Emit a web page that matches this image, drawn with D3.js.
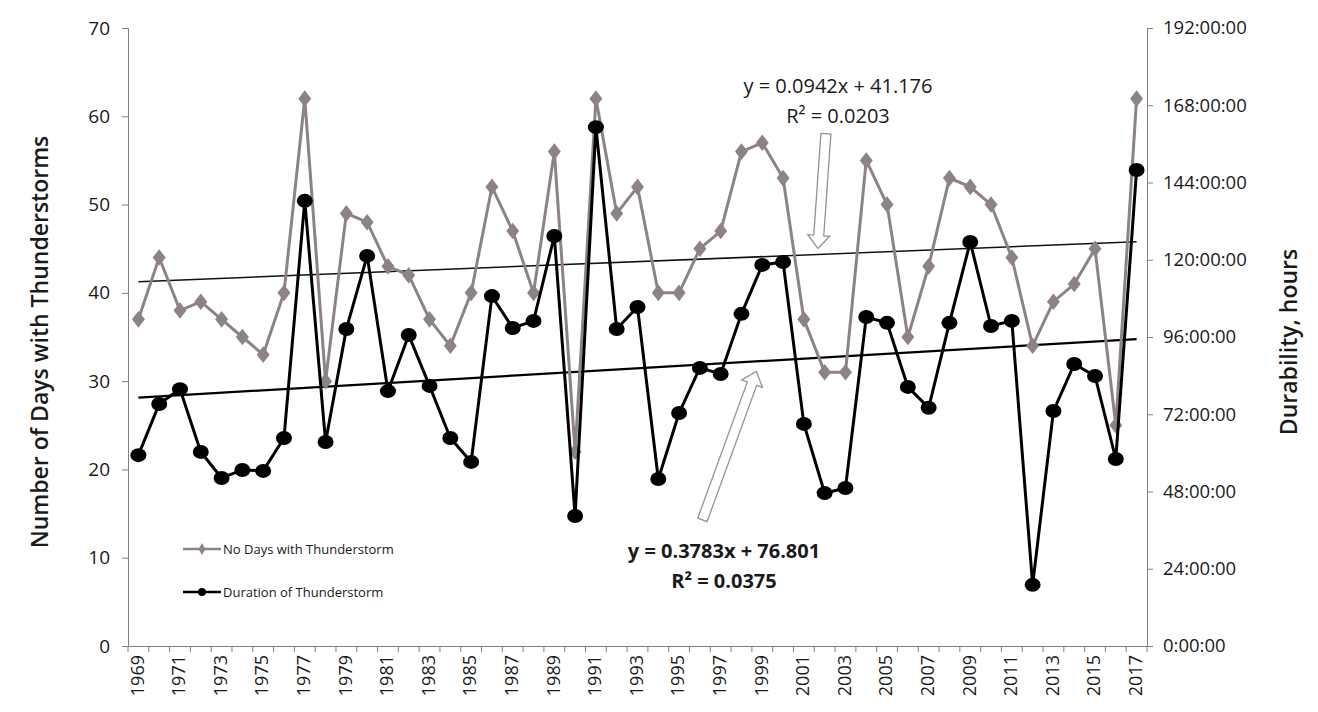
<!DOCTYPE html>
<meta charset="utf-8">
<style>
body { margin: 0; background: #fff; }
text { font-family: "Open Sans", "Noto Sans", sans-serif; fill: #1a1a1a; }
.axis path, .axis line { stroke: #8a7c7c; }
.series { fill: none; stroke-linejoin: miter; }
</style>
<body>
<svg width="1318" height="712"></svg>
<script src="https://cdn.jsdelivr.net/npm/d3@7/dist/d3.min.js"></script>
<script>

// years 1969..2017
var years = d3.range(1969, 2018)

// number of days with thunderstorms (left axis)
var days = [37,44,38,39,37,35,33,40,62,30,
            49,48,43,42,37,34,40,52,47,40,
            56,22,62,49,52,40,40,45,47,56,
            57,53,37,31,31,55,50,35,43,53,
            52,50,44,34,39,41,45,25,62]

// duration of thunderstorms, hours (right axis)
var hours = [59.3,75.2,79.8,60.3,52.2,54.7,54.4,64.6,138.3,63.4,
             98.5,121.2,79.2,96.6,80.8,64.6,57.2,108.7,98.8,101,
             127.4,40.4,161.2,98.5,105.3,51.9,72.4,86.4,84.5,103.2,
             118.4,119.3,69,47.5,49.1,102.2,100.4,80.5,74,100.4,
             125.5,99.4,101,19,73,87.6,83.9,58.1,147.9]

var daysTrend = [0.0942, 41.176], daysR2 = "0.0203"
var hoursTrend = [0.3783, 76.801], hoursR2 = "0.0375"

var leftTicks = d3.range(0, 71, 10)
var rightTicks = d3.range(0, 193, 24)

var svg = d3.select("svg")
var L = 128, R = 1147, T = 28, B = 646

var x = d3.scaleBand().domain(years).range([L, R])
var cx = function(yr){ return x(yr) + x.bandwidth()/2 }
var yL = d3.scaleLinear().domain([0, 70]).range([B, T])
var yR = d3.scaleLinear().domain([0, 192]).range([B, T])

// axes
svg.append("g").attr("class","axis")
  .attr("transform","translate("+L+",0)")
  .call(d3.axisLeft(yL).tickValues(leftTicks).tickSize(6).tickPadding(12))
  .call(g=>g.selectAll("text").style("font-size","19px"))

svg.append("g").attr("class","axis")
  .attr("transform","translate("+R+",0)")
  .call(d3.axisRight(yR).tickValues(rightTicks).tickSize(6).tickPadding(10)
        .tickFormat(d=> d+":00:00"))
  .call(g=>g.selectAll("text").style("font-size","18.5px"))

var xa = svg.append("g").attr("class","axis")
  .attr("transform","translate(0,"+B+")")
  .call(d3.axisBottom(x).tickSize(0).tickFormat(d=> (d-1969)%2==0 ? d : ""))
xa.selectAll("text")
  .style("font-size","18px")
  .attr("text-anchor","end")
  .attr("transform","rotate(-90)")
  .attr("x",-9).attr("y",-1).attr("dy","0.35em")
// ticks at band boundaries
xa.selectAll(".bt").data(years.concat([null])).enter().append("line")
  .attr("stroke","#8a7c7c")
  .attr("x1",(d,i)=> L + i*x.bandwidth()).attr("x2",(d,i)=> L + i*x.bandwidth())
  .attr("y1",0).attr("y2",6)

// trend lines
function trendLine(coef, scale){
  return d3.line().x(d=>cx(d)).y(d=> scale(coef[0]*(d-1968) + coef[1]))([years[0], years[years.length-1]])
}
svg.append("path").attr("d", trendLine(daysTrend, yL))
  .attr("stroke","#111").attr("stroke-width",1.5).attr("fill","none")
svg.append("path").attr("d", trendLine(hoursTrend, yR))
  .attr("stroke","#000").attr("stroke-width",2.2).attr("fill","none")

// days series
var grey = "#8e8384"
svg.append("path").attr("class","series")
  .attr("d", d3.line().x((d,i)=>cx(years[i])).y(d=>yL(d))(days))
  .attr("stroke",grey).attr("stroke-width",3)
svg.selectAll(".dia").data(days).enter().append("path")
  .attr("d", d3.symbol(d3.symbolDiamond, 110)())
  .attr("transform",(d,i)=>"translate("+cx(years[i])+","+yL(d)+") scale(1.15,0.85)")
  .attr("fill",grey)

// hours series
svg.append("path").attr("class","series")
  .attr("d", d3.line().x((d,i)=>cx(years[i])).y(d=>yR(d))(hours))
  .attr("stroke","#000").attr("stroke-width",3)
svg.selectAll(".dot").data(hours).enter().append("ellipse")
  .attr("cx",(d,i)=>cx(years[i])).attr("cy",d=>yR(d))
  .attr("rx",8).attr("ry",7).attr("fill","#000")

// hollow arrows pointing at the trend lines
function arrow(tx, ty, angle, len){
  var g = svg.append("g").attr("transform","translate("+tx+","+ty+") rotate("+angle+")")
  var hw = 5, hh = 13, hwid = 11
  g.append("path")
    .attr("d","M0,0 L"+(-hwid)+","+(-hh)+" L"+(-hw)+","+(-hh)+" L"+(-hw)+","+(-len)+
              " L"+hw+","+(-len)+" L"+hw+","+(-hh)+" L"+hwid+","+(-hh)+" Z")
    .attr("fill","#fff").attr("stroke","#9a9090").attr("stroke-width",1.3)
}
arrow(cx(2001)+14, yL(daysTrend[0]*33.7 + daysTrend[1]) - 6, 4, 115)
arrow(cx(1998)+15, yR(hoursTrend[0]*30.7 + hoursTrend[1]) + 10, 200, 158)

// equations
function eq(xc, y1, coef, r2, bold){
  var t = svg.append("g").style("font-size","20px").style("font-weight", bold ? "bold" : "normal")
  t.append("text").attr("x",xc).attr("y",y1).attr("text-anchor","middle")
    .text("y = " + coef[0].toFixed(4) + "x + " + coef[1].toFixed(3))
  t.append("text").attr("x",xc).attr("y",y1+30).attr("text-anchor","middle")
    .text("R² = " + r2)
}
eq(838, 93, daysTrend, daysR2, false)
eq(724, 558, hoursTrend, hoursR2, true)

// axis titles
svg.append("text").attr("transform","translate(48,342) rotate(-90)")
  .attr("text-anchor","middle").style("font-size","23px").style("font-weight","600")
  .text("Number of Days with Thunderstorms")
svg.append("text").attr("transform","translate(1297,342) rotate(-90)")
  .attr("text-anchor","middle").style("font-size","23px").style("font-weight","600")
  .text("Durability, hours")

// legend
var leg = svg.append("g").attr("transform","translate(183,0)")
var items = [{name:"No Days with Thunderstorm", c:grey, y:549, m:"d"},
             {name:"Duration of Thunderstorm", c:"#000", y:592, m:"c"}]
items.forEach(function(it){
  leg.append("line").attr("x1",0).attr("x2",38).attr("y1",it.y).attr("y2",it.y)
    .attr("stroke",it.c).attr("stroke-width",2.5)
  if (it.m=="d")
    leg.append("path").attr("d", d3.symbol(d3.symbolDiamond, 40)())
      .attr("transform","translate(19,"+it.y+")").attr("fill",it.c)
  else
    leg.append("circle").attr("cx",19).attr("cy",it.y).attr("r",4).attr("fill",it.c)
  leg.append("text").attr("x",40).attr("y",it.y).attr("dy","0.35em")
    .style("font-size","13px").text(it.name)
})

</script>
</body>
